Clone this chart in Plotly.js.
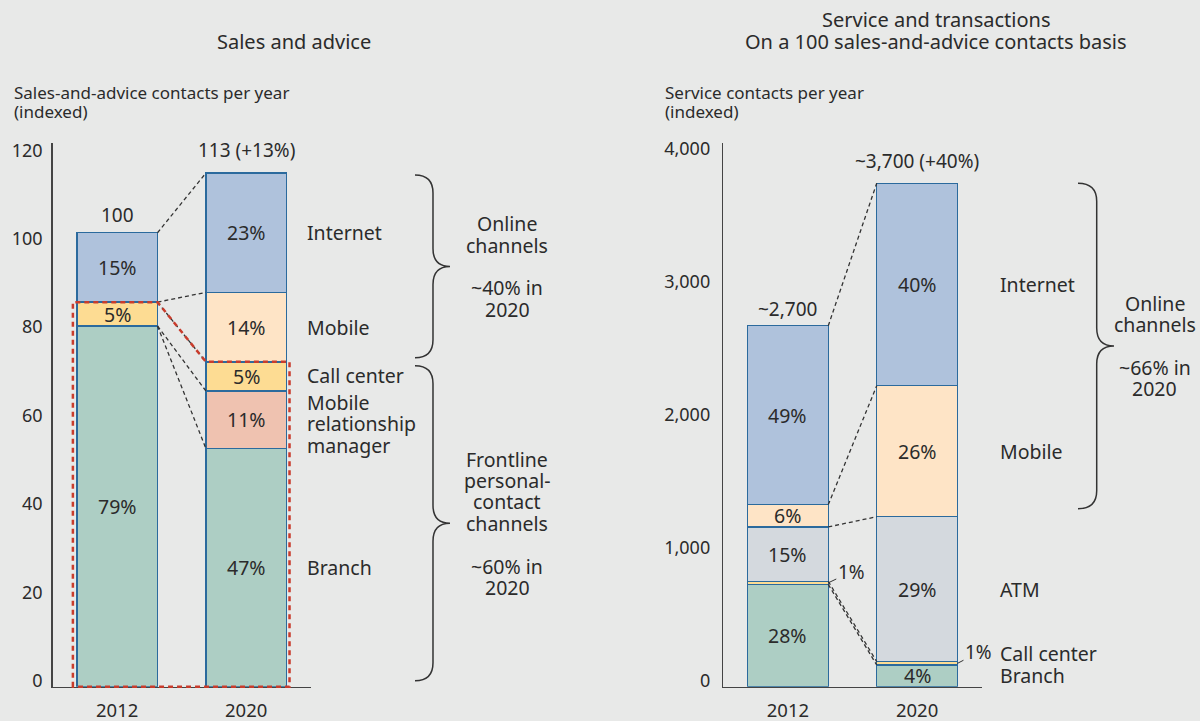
<!DOCTYPE html>
<html><head><meta charset="utf-8">
<script src="https://cdn.plot.ly/plotly-3.0.1.min.js"></script>
<style>html,body{margin:0;padding:0;background:#e8e9e8;}#chart{width:1200px;height:721px;}</style>
</head><body><div id="chart"></div>
<script>
// ---------------- DATA ----------------
const years = ['2012', '2020'];

// Sales and advice: contacts per year (indexed)
const salesBranch   = [81.6, 53.9];
const salesMRM      = [0, 13.0];
const salesCall     = [5.4, 6.6];
const salesMobile   = [0, 15.7];
const salesInternet = [15.7, 27.0];
const salesBranchPct   = ['79%', '47%'];
const salesMRMPct      = ['', '11%'];
const salesCallPct     = ['5%', '5%'];
const salesMobilePct   = ['', '14%'];
const salesInternetPct = ['15%', '23%'];
const salesTotals = ['100', '113 (+13%)'];
const salesTicks = [0, 20, 40, 60, 80, 100, 120];

// Service and transactions: contacts per year (indexed)
const svcBranch   = [770, 163];
const svcCall     = [23, 25];
const svcATM      = [409, 1091];
const svcMobile   = [168, 986];
const svcInternet = [1346, 1523];
const svcBranchPct   = ['28%', '4%'];
const svcCallPct     = ['1%', '1%'];
const svcATMPct      = ['15%', '29%'];
const svcMobilePct   = ['6%', '26%'];
const svcInternetPct = ['49%', '40%'];
const svcTotals = ['~2,700', '~3,700 (+40%)'];
const svcTicks = [0, 1000, 2000, 3000, 4000];
const svcTickText = ['0', '1,000', '2,000', '3,000', '4,000'];

// ---------------- STYLE / GEOMETRY ----------------
const W = 1200, H = 721;
const FONT = '"Noto Sans", "Open Sans", sans-serif';
const TXT = '#2b2b2b';
const BG = '#e8e9e8';
const EDGE = '#2b6a9d';
const C = {internet:'#afc2dc', mobile:'#fee4c6', call:'#fddc93', mrm:'#efc2b0', branch:'#adcec4', atm:'#d4d9de'};
const yTopPx = 143, yBotPx = 686.7;
const XR = [-0.5, 1.5];
const LA = {x0:52.7, x1:310.7, ymax:123.0};
const RA = {x0:723.3, x1:981.7, ymax:4091};
const BW = 0.625;

const xPx = (a, v) => a.x0 + (v - XR[0]) / (XR[1] - XR[0]) * (a.x1 - a.x0);
const yPx = (a, v) => yBotPx - v / a.ymax * (yBotPx - yTopPx);
const PX = p => p / W, PY = p => 1 - p / H;

function cum(list, upto, i) { let s = 0; for (let k = 0; k < upto; k++) s += list[k][i]; return s; }

const salesStack = [salesBranch, salesMRM, salesCall, salesMobile, salesInternet];
const salesPcts  = [salesBranchPct, salesMRMPct, salesCallPct, salesMobilePct, salesInternetPct];
const salesCols  = [C.branch, C.mrm, C.call, C.mobile, C.internet];
const svcStack = [svcBranch, svcCall, svcATM, svcMobile, svcInternet];
const svcPcts  = [svcBranchPct, svcCallPct, svcATMPct, svcMobilePct, svcInternetPct];
const svcCols  = [C.branch, C.call, C.atm, C.mobile, C.internet];

const traces = [];
function addBars(stack, cols, xa, ya) {
  stack.forEach((vals, k) => {
    traces.push({type:'bar', x:[0, 1], y:vals.map(v => v === 0 ? null : v), width:BW,
      marker:{color:cols[k], line:{color:EDGE, width:1.5}}, xaxis:xa, yaxis:ya,
      hoverinfo:'skip', showlegend:false});
  });
}
addBars(salesStack, salesCols, 'x', 'y');
addBars(svcStack, svcCols, 'x2', 'y2');

const anns = [];
const shapes = [];
const fnt = (size) => ({family:FONT, size:size, color:TXT});

// percentage labels inside segments
function addPcts(stack, pcts, xa, ya, skip) {
  stack.forEach((vals, k) => {
    if (skip.includes(k)) return;
    [0, 1].forEach(i => {
      if (!pcts[k][i]) return;
      anns.push({xref:xa, yref:ya, x:i, y:cum(stack, k, i) + vals[i] / 2, text:pcts[k][i],
        showarrow:false, font:fnt(19.5), yanchor:'middle'});
    });
  });
}
addPcts(salesStack, salesPcts, 'x', 'y', []);
addPcts(svcStack, svcPcts, 'x2', 'y2', [1]);

// totals above bars
const totShift = [4, 9];
[0, 1].forEach(i => {
  anns.push({xref:'x', yref:'y', x:i, y:cum(salesStack, 5, i), text:salesTotals[i], showarrow:false,
    font:fnt(19), yanchor:'bottom', yshift:totShift[i] - 1});
  anns.push({xref:'x2', yref:'y2', x:i, y:cum(svcStack, 5, i), text:svcTotals[i], showarrow:false,
    font:fnt(19), yanchor:'bottom', yshift:totShift[i] - 2});
});

// 1% callouts (right chart)
[0, 1].forEach(i => {
  anns.push({xref:'x2', yref:'y2', x:i + BW / 2, y:cum(svcStack, 1, i) + svcCall[i] / 2,
    text:svcCallPct[i], showarrow:true, arrowhead:0, arrowwidth:1, arrowcolor:'#333',
    ax:i === 0 ? 23 : 21, ay:-11, standoff:0, font:fnt(19)});
});

// segment names
function lines(list, xp, anchor, cy, sp, size) {
  list.forEach((t, k) => {
    if (!t) return;
    const y = cy + (k - (list.length - 1) / 2) * sp;
    anns.push({xref:'paper', yref:'paper', x:PX(xp), y:PY(y), xanchor:anchor, yanchor:'middle',
      text:t, showarrow:false, font:fnt(size)});
  });
}
const segC = (a, stack, k, i) => yPx(a, cum(stack, k, i) + stack[k][i] / 2);
lines(['Internet'], 305, 'left', segC(LA, salesStack, 4, 1), 21.3, 19.5);
lines(['Mobile'], 305, 'left', segC(LA, salesStack, 3, 1), 21.3, 19.5);
lines(['Call center'], 305, 'left', segC(LA, salesStack, 2, 1) - 1, 21.3, 19.5);
lines(['Mobile', 'relationship', 'manager'], 305, 'left', segC(LA, salesStack, 1, 1) + 4, 21.3, 19.5);
lines(['Branch'], 305, 'left', segC(LA, salesStack, 0, 1), 21.3, 19.5);

lines(['Internet'], 998, 'left', segC(RA, svcStack, 4, 1), 21.3, 19.5);
lines(['Mobile'], 998, 'left', segC(RA, svcStack, 3, 1), 21.3, 19.5);
lines(['ATM'], 998, 'left', segC(RA, svcStack, 2, 1), 21.3, 19.5);
lines(['Call center'], 998, 'left', segC(RA, svcStack, 1, 1) - 10, 21.3, 19.5);
lines(['Branch'], 998, 'left', segC(RA, svcStack, 0, 1), 21.3, 19.5);

// braces
function brace(xl, xv, xt, yt, yb) {
  const r = 18, ym = (yt + yb) / 2;
  const p = (x, y) => PX(x).toFixed(5) + ',' + PY(y).toFixed(5);
  return 'M' + p(xl, yt) + ' Q' + p(xv, yt) + ' ' + p(xv, yt + r) + ' L' + p(xv, ym - r) +
    ' Q' + p(xv, ym) + ' ' + p(xt, ym) + ' Q' + p(xv, ym) + ' ' + p(xv, ym + r) +
    ' L' + p(xv, yb - r) + ' Q' + p(xv, yb) + ' ' + p(xl, yb);
}
const bLine = {color:'#333', width:1.5};
const s20top = yPx(LA, cum(salesStack, 5, 1));
const s20call = yPx(LA, cum(salesStack, 3, 1));
const b1t = s20top + 2, b1b = s20call - 4;
const b2t = s20call + 4, b2b = yBotPx - 6;
shapes.push({type:'path', xref:'paper', yref:'paper', path:brace(415, 433, 450, b1t, b1b), line:bLine});
shapes.push({type:'path', xref:'paper', yref:'paper', path:brace(415, 433, 450, b2t, b2b), line:bLine});
const r20top = yPx(RA, cum(svcStack, 5, 1));
const r20atm = yPx(RA, cum(svcStack, 3, 1));
const b3t = r20top, b3b = r20atm - 8;
shapes.push({type:'path', xref:'paper', yref:'paper', path:brace(1078, 1096.7, 1114, b3t, b3b), line:bLine});

lines(['Online', 'channels', '', '~40% in', '2020'], 507, 'center', (b1t + b1b) / 2, 21.3, 19.5);
lines(['Frontline', 'personal-', 'contact', 'channels', '', '~60% in', '2020'], 507, 'center', (b2t + b2b) / 2, 21.4, 19.5);
lines(['Online', 'channels', '', '~66% in', '2020'], 1154.5, 'center', (b3t + b3b) / 2, 21.3, 19.5);

// connectors
const e0 = BW / 2, e1 = 1 - BW / 2;
const dash = {color:'#333', width:1.3, dash:'4px,3px'};
function conn(xa, ya, y0, y1) {
  shapes.push({type:'line', xref:xa, yref:ya, x0:e0, x1:e1, y0:y0, y1:y1, line:dash});
}
const sc = (k, i) => cum(salesStack, k, i);
conn('x', 'y', sc(5, 0), sc(5, 1));
conn('x', 'y', sc(5, 0) - salesInternet[0], sc(4, 1));
conn('x', 'y', sc(3, 0), sc(3, 1));
conn('x', 'y', sc(1, 0), sc(2, 1));
conn('x', 'y', sc(1, 0), sc(1, 1));
const rc = (k, i) => cum(svcStack, k, i);
conn('x2', 'y2', rc(5, 0), rc(5, 1));
conn('x2', 'y2', rc(4, 0), rc(4, 1));
conn('x2', 'y2', rc(3, 0), rc(3, 1));
conn('x2', 'y2', rc(2, 0), rc(2, 1));
conn('x2', 'y2', rc(1, 0), rc(1, 1));

// red dashed outline around frontline channels
{
  const xl = xPx(LA, 0 - BW / 2) - 4, xa = xPx(LA, e0), xb = xPx(LA, e1), xr = xPx(LA, 1 + BW / 2) + 3;
  const ya = yPx(LA, sc(3, 0)), yb = yPx(LA, sc(3, 1));
  const p = (x, y) => PX(x).toFixed(5) + ',' + PY(y).toFixed(5);
  shapes.push({type:'path', xref:'paper', yref:'paper',
    path:'M' + p(xl, yBotPx) + ' L' + p(xl, ya) + ' L' + p(xa, ya) + ' L' + p(xb, yb) + ' L' + p(xr, yb) + ' L' + p(xr, yBotPx) + ' Z',
    line:{color:'#c93c2c', width:2.5, dash:'5px,4px'}});
}

// titles
lines(['Sales and advice'], 294, 'center', 42, 22, 20);
lines(['Service and transactions', 'On a 100 sales-and-advice contacts basis'], 936, 'center', 31, 22, 20);
lines(['Sales-and-advice contacts per year', '(indexed)'], 12, 'left', 102.5, 19, 17);
lines(['Service contacts per year', '(indexed)'], 663, 'left', 102.5, 19, 17);

const axBase = {showgrid:false, zeroline:false, showline:true, linecolor:'#444', linewidth:1.5, ticks:'', fixedrange:true};
const layout = {
  width:W, height:H, autosize:false, margin:{l:0, r:0, t:0, b:0},
  paper_bgcolor:BG, plot_bgcolor:BG, barmode:'stack', bargap:0, showlegend:false,
  font:{family:FONT, color:TXT},
  xaxis:Object.assign({}, axBase, {domain:[PX(LA.x0), PX(LA.x1)], range:XR, tickvals:[0, 1], ticktext:years,
    tickfont:fnt(18.5), anchor:'y', ticklabelstandoff:7}),
  yaxis:Object.assign({}, axBase, {domain:[PY(yBotPx), PY(yTopPx)], range:[0, LA.ymax], tickvals:salesTicks,
    tickfont:fnt(18), anchor:'x', ticklabelshift:-6, ticklabelstandoff:5}),
  xaxis2:Object.assign({}, axBase, {domain:[PX(RA.x0), PX(RA.x1)], range:XR, tickvals:[0, 1], ticktext:years,
    tickfont:fnt(18.5), anchor:'y2', ticklabelstandoff:7}),
  yaxis2:Object.assign({}, axBase, {domain:[PY(yBotPx), PY(yTopPx)], range:[0, RA.ymax], tickvals:svcTicks,
    ticktext:svcTickText, tickfont:fnt(18), anchor:'x2', ticklabelshift:-6, ticklabelstandoff:8}),
  annotations:anns, shapes:shapes
};
Plotly.newPlot('chart', traces, layout, {staticPlot:true, displayModeBar:false});
</script>
</body></html>
